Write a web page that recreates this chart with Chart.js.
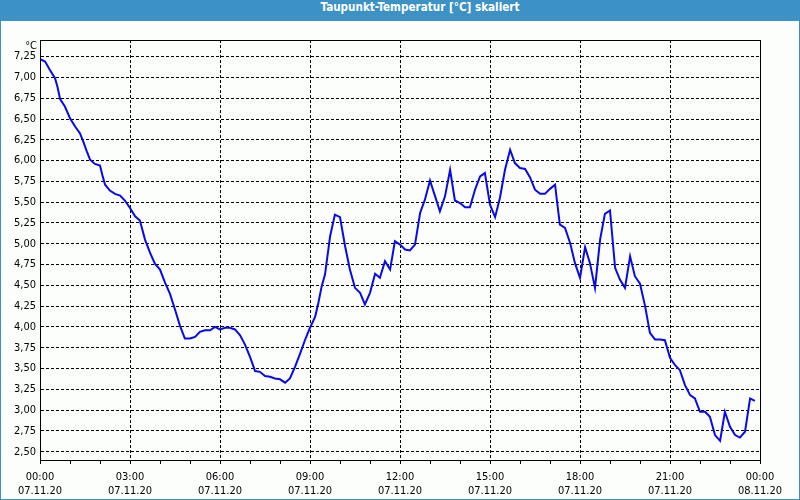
<!DOCTYPE html>
<html>
<head>
<meta charset="utf-8">
<script src="https://cdn.jsdelivr.net/npm/chart.js@4"></script>
<style>
    body { margin: 0; background: #fcfefc; }
    #frame {
        position: relative;
        width: 800px;
        height: 500px;
        box-sizing: border-box;
        border: 1px solid #3c90c4;
        border-top: none;
        background: #fcfefc;
    }
    #titleBar {
        height: 21px;
        line-height: 21px;
        background: #3c91c5;
        color: #fff;
        font: bold 11.6px "DejaVu Sans Condensed", "DejaVu Sans", sans-serif;
        text-align: center;
        margin: 0 -1px;
        padding-left: 40px;
    }
    #wrap { position: absolute; left: 0; top: 21px; width: 798px; height: 478px; }
</style>
</head>
<body>
<div id="frame">
    <div id="titleBar">Taupunkt-Temperatur [°C] skaliert</div>
    <div id="wrap"><canvas id="myChart" width="798" height="478"></canvas></div>
</div>
<script>
// hours since 07.11.20 00:00
const hours = [
    0.0, 0.17, 0.33, 0.5, 0.58, 0.67, 0.83, 1.0, 1.17, 1.33, 1.44, 1.56, 1.67, 1.83, 2.0, 2.09, 2.17, 2.33, 2.5, 2.67, 2.83,
    3.0, 3.17, 3.33, 3.5, 3.67, 3.83, 4.0, 4.17, 4.33, 4.5, 4.67, 4.83, 5.0, 5.17, 5.33, 5.5, 5.67, 5.83,
    6.0, 6.17, 6.33, 6.5, 6.67, 6.83, 7.0, 7.17, 7.33, 7.5, 7.67, 7.83, 8.0, 8.17, 8.33, 8.5, 8.67, 8.83,
    9.0, 9.17, 9.28, 9.39, 9.5, 9.67, 9.83, 10.0, 10.17, 10.33, 10.5, 10.67, 10.83, 11.0, 11.17, 11.33, 11.5, 11.67, 11.83,
    12.0, 12.17, 12.33, 12.5, 12.67, 12.83, 13.0, 13.17, 13.33, 13.5, 13.67, 13.83, 14.0, 14.17, 14.33, 14.5, 14.67, 14.83,
    15.0, 15.17, 15.33, 15.5, 15.67, 15.83, 16.0, 16.17, 16.33, 16.5, 16.67, 16.83, 17.0, 17.17, 17.24, 17.33, 17.5, 17.67, 17.83,
    18.0, 18.17, 18.33, 18.5, 18.67, 18.83, 19.0, 19.17, 19.33, 19.5, 19.67, 19.83, 20.0, 20.17, 20.33, 20.5, 20.67, 20.83,
    21.0, 21.17, 21.33, 21.5, 21.67, 21.83, 22.0, 22.17, 22.33, 22.5, 22.67, 22.83, 23.0, 23.17, 23.33, 23.5, 23.67, 23.83
];
const dewpoint = [
    7.22, 7.19, 7.09, 6.99, 6.89, 6.74, 6.65, 6.51, 6.41, 6.33, 6.23, 6.11, 6.01, 5.96, 5.94, 5.81, 5.71, 5.64, 5.60, 5.58, 5.52,
    5.43, 5.33, 5.28, 5.05, 4.89, 4.76, 4.69, 4.53, 4.40, 4.21, 4.01, 3.86, 3.86, 3.88, 3.94, 3.96, 3.96, 4.00,
    3.97, 3.99, 3.99, 3.97, 3.90, 3.79, 3.64, 3.47, 3.46, 3.41, 3.40, 3.38, 3.37, 3.33, 3.38, 3.52, 3.68, 3.84,
    3.99, 4.12, 4.29, 4.49, 4.63, 5.09, 5.35, 5.32, 4.97, 4.69, 4.47, 4.41, 4.27, 4.41, 4.64, 4.59, 4.79, 4.69, 5.03,
    4.99, 4.93, 4.92, 4.99, 5.37, 5.53, 5.76, 5.57, 5.39, 5.57, 5.89, 5.52, 5.49, 5.44, 5.44, 5.65, 5.81, 5.85,
    5.47, 5.32, 5.55, 5.89, 6.13, 5.97, 5.91, 5.90, 5.80, 5.65, 5.60, 5.60, 5.66, 5.71, 5.49, 5.23, 5.19, 5.01, 4.77,
    4.59, 4.96, 4.77, 4.47, 5.05, 5.36, 5.40, 4.71, 4.57, 4.47, 4.85, 4.61, 4.52, 4.25, 3.93, 3.85, 3.85, 3.84,
    3.63, 3.54, 3.48, 3.30, 3.18, 3.14, 2.98, 2.98, 2.92, 2.70, 2.63, 2.98, 2.80, 2.70, 2.67, 2.74, 3.14, 3.11
];
const timeLabels = ['00:00', '03:00', '06:00', '09:00', '12:00', '15:00', '18:00', '21:00', '00:00'];
const dateLabels = ['07.11.20', '07.11.20', '07.11.20', '07.11.20', '07.11.20', '07.11.20', '07.11.20', '07.11.20', '08.11.20'];

const fontFamily = '"DejaVu Sans Condensed", "DejaVu Sans", sans-serif';

// solid plot frame + unit label above the y axis
const framePlugin = {
    id: 'frame',
    afterDraw(chart) {
        const c = chart.ctx, a = chart.chartArea;
        c.save();
        c.strokeStyle = '#000';
        c.lineWidth = 1;
        c.setLineDash([]);
        c.strokeRect(Math.round(a.left) + 0.5, Math.round(a.top) + 0.5, Math.round(a.right - a.left), Math.round(a.bottom - a.top));
        c.fillStyle = '#000';
        c.font = '11px ' + fontFamily;
        c.textAlign = 'right';
        c.textBaseline = 'middle';
        c.fillText('°C', a.left - 3, a.top + 6);
        c.restore();
    }
};

const ctx = document.getElementById('myChart').getContext('2d');
window.myChart = new Chart(ctx, {
    type: 'line',
    data: {
        datasets: [{
            data: hours.map((h, i) => ({ x: h, y: dewpoint[i] })),
            borderColor: '#0a0ae6',
            borderWidth: 2,
            pointRadius: 0,
            tension: 0,
            fill: false
        }]
    },
    options: {
        responsive: false,
        animation: false,
        layout: { padding: { top: 19, right: 39, left: 0, bottom: 0 } },
        plugins: { legend: { display: false }, tooltip: { enabled: false } },
        scales: {
            x: {
                type: 'linear',
                min: 0,
                max: 24,
                afterFit: s => { s.height = 39; },
                border: { display: true, color: '#000', dash: [3, 2] },
                grid: {
                    color: c => (c.tick && c.tick.value % 3 === 0) ? '#000' : 'rgba(0,0,0,0)',
                    tickColor: '#000',
                    tickLength: 4,
                    tickBorderDash: []
                },
                ticks: {
                    stepSize: 1,
                    autoSkip: false,
                    maxRotation: 0,
                    padding: 6,
                    color: '#000',
                    font: { family: fontFamily, size: 11, lineHeight: 1.3 },
                    callback: v => v % 3 === 0 ? [timeLabels[v / 3], dateLabels[v / 3]] : ''
                }
            },
            y: {
                min: 2.4,
                max: 7.45,
                afterFit: s => { s.width = 39; },
                border: { display: true, color: '#000', dash: [3, 2] },
                grid: {
                    color: '#000',
                    drawTicks: false
                },
                ticks: {
                    stepSize: 0.25,
                    includeBounds: false,
                    padding: 4,
                    color: '#000',
                    font: { family: fontFamily, size: 11 },
                    callback: v => v.toFixed(2).replace('.', ',')
                }
            }
        }
    },
    plugins: [framePlugin]
});
</script>
</body>
</html>
